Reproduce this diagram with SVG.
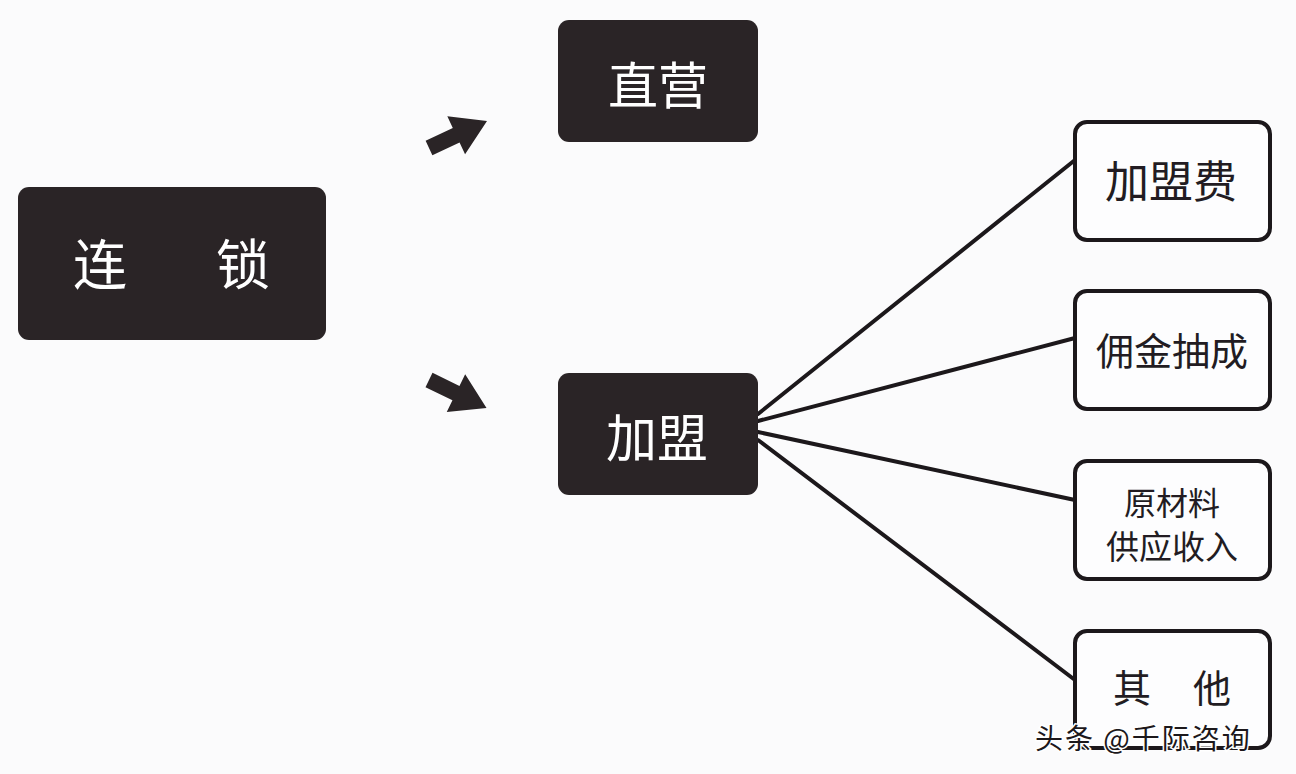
<svg xmlns="http://www.w3.org/2000/svg" width="1296" height="774" viewBox="0 0 1296 774">
<style>
.dark{fill:#2a2426;}
.light{fill:#fdfdfe;stroke:#1c181b;stroke-width:4;}
.wt{fill:#ffffff;font-family:"Noto Sans CJK SC","Noto Sans",sans-serif;text-anchor:middle;dominant-baseline:central;}
.bt{fill:#221c22;font-family:"Noto Sans CJK SC","Noto Sans",sans-serif;text-anchor:middle;dominant-baseline:central;}
.conn line{stroke:#1c181b;stroke-width:4;stroke-linecap:round;}
.arrow{fill:#2a2426;}
.mark{fill:#1c181b;stroke:#ffffff;stroke-width:3;paint-order:stroke;font-family:"Noto Sans CJK SC","Noto Sans",sans-serif;letter-spacing:2px;}
</style>
<defs>
<path id="blockArrow" d="M0,-8 L30,-8 L30,-21 L64,0 L30,21 L30,8 L0,8 Z"/>
</defs>
<rect width="1296" height="774" fill="#fbfbfc"/>
<g id="connectors" class="conn">
<use href="#blockArrow" class="arrow" transform="translate(429,148) rotate(-25)"/>
<use href="#blockArrow" class="arrow" transform="translate(429,380) rotate(26)"/>
<line x1="758" y1="414" x2="1075" y2="160"/>
<line x1="758" y1="421" x2="1075" y2="338"/>
<line x1="758" y1="432" x2="1075" y2="500"/>
<line x1="758" y1="440" x2="1075" y2="680"/>
</g>
<g id="node-liansuo">
<rect class="dark" x="18" y="187" width="308" height="153" rx="11"/>
<text class="wt" x="100" y="261" font-size="54">连</text>
<text class="wt" x="243" y="261" font-size="54">锁</text>
</g>
<g id="node-zhiying">
<rect class="dark" x="558" y="20" width="200" height="122" rx="11"/>
<text class="wt" x="658" y="82" font-size="50">直营</text>
</g>
<g id="node-jiameng">
<rect class="dark" x="558" y="373" width="200" height="122" rx="11"/>
<text class="wt" x="657" y="435" font-size="51">加盟</text>
</g>
<g id="node-jiamengfei">
<rect class="light" x="1075" y="122" width="195" height="118" rx="12"/>
<text class="bt" x="1171" y="179" font-size="44">加盟费</text>
</g>
<g id="node-yongjin">
<rect class="light" x="1075" y="291" width="195" height="118" rx="12"/>
<text class="bt" x="1172" y="348" font-size="38">佣金抽成</text>
</g>
<g id="node-yuancailiao">
<rect class="light" x="1075" y="461" width="195" height="118" rx="12"/>
<text class="bt" x="1172" y="501" font-size="32">原材料</text>
<text class="bt" x="1172" y="545" font-size="33">供应收入</text>
</g>
<g id="node-qita">
<rect class="light" x="1075" y="631" width="195" height="117" rx="12"/>
<text class="bt" x="1132" y="685" font-size="38">其</text>
<text class="bt" x="1212" y="685" font-size="38">他</text>
</g>
<text class="mark" x="1035" y="749" font-size="28">头条 @千际咨询</text>
</svg>
